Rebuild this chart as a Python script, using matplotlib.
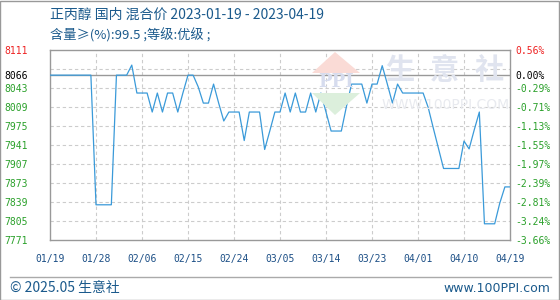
import numpy as np
import pandas as pd
import matplotlib
matplotlib.use("Agg")
import matplotlib.pyplot as plt
from matplotlib.patches import Rectangle, Polygon
from matplotlib.lines import Line2D

# ---------------- data ----------------
start_date = "2023-01-19"
end_date = "2023-04-19"
prices = [
    8066, 8066, 8066, 8066, 8066, 8066, 8066, 8066, 8066,   # 01/19-01/27
    7834, 7834, 7834, 7834,                                 # 01/28-01/31
    8066, 8066, 8066, 8084, 8034, 8034, 8034,               # 02/01-02/07
    8000, 8034, 8000, 8034, 8034, 8000, 8034,               # 02/08-02/14
    8066, 8066, 8045, 8016, 8016, 8050, 8016, 7984,         # 02/15-02/22
    8000, 8000, 8000, 7949, 8000, 8000, 8000,               # 02/23-03/01
    7933, 7966, 8000, 8000, 8034, 8000, 8034, 8000, 8000,   # 03/02-03/10
    8034, 8000, 8034, 8000, 7966, 7966, 7966, 8010,         # 03/11-03/18
    8050, 8050, 8050, 8016, 8050, 8050, 8083, 8050, 8016,   # 03/19-03/27
    8050, 8034, 8034, 8034, 8034, 8034, 8008, 7971, 7935,   # 03/28-04/05
    7899, 7899, 7899, 7899, 7948, 7934, 7968, 8000,         # 04/06-04/13
    7800, 7800, 7800, 7837, 7866, 7866,                     # 04/14-04/19
]
base_price = 8066
y_max, y_min = 8111, 7771
left_ticks = [8111, 8066, 8043, 8009, 7975, 7941, 7907, 7873, 7839, 7805, 7771]
left_labels = ["8111", "8066", "8043", "8009", "7975", "7941", "7907", "7873", "7839", "7805", "7771"]
right_labels = ["0.56%", "0.00%", "-0.29%", "-0.71%", "-1.13%", "-1.55%", "-1.97%",
                "-2.39%", "-2.81%", "-3.24%", "-3.66%"]
grid_levels = [8077, 8043, 8009, 7975, 7941, 7907, 7873, 7839, 7805]
x_tick_labels = ["01/19", "01/28", "02/06", "02/15", "02/24", "03/05",
                 "03/14", "03/23", "04/01", "04/10", "04/19"]
title_line1 = "正丙醇 国内 混合价 2023-01-19 - 2023-04-19"
title_line2 = "含量≥(%):99.5 ;等级:优级 ;"
footer_left = "© 2025.05 生意社"
footer_right = "www.100PPI.com"
watermark_chars = "生意社"
watermark_url = "WWW.100PPI.COM"

dates = pd.date_range(start_date, end_date, freq="D")
tick_dates = pd.date_range(start_date, end_date, freq="9D")

# ---------------- figure ----------------
W, H = 560, 300
fig = plt.figure(figsize=(W / 100, H / 100), dpi=100)
fig.patch.set_facecolor("white")

def fx(px):
    return px / W

def fy(py):
    return 1 - py / H

ax = fig.add_axes([fx(50), fy(240), (510 - 50) / W, (240 - 50) / H])
ax.set_facecolor("none")

# watermark (figure pixels)
roof = Polygon([[fx(312), fy(73)], [fx(335), fy(52)], [fx(360), fy(73)]],
               closed=True, transform=fig.transFigure, facecolor="#fadbd6",
               edgecolor="none", zorder=0)
fig.patches.append(roof)
green = Polygon([[fx(312), fy(93)], [fx(360), fy(93)], [fx(335), fy(115)]],
                closed=True, transform=fig.transFigure, facecolor="#dcefdc",
                edgecolor="none", zorder=0)
fig.patches.append(green)
fig.text(fx(336), fy(82), "PPI", ha="center", va="center", fontsize=13,
         fontweight="bold", color="#d6dcee", family="DejaVu Serif", zorder=0)
for i, ch in enumerate(watermark_chars):
    fig.text(fx(400 + i * 44.5), fy(70), ch, ha="center", va="center",
             fontsize=21, fontweight="bold", color="#e0e4ef",
             family=["Noto Sans CJK SC", "DejaVu Sans"], zorder=0)
fig.text(fx(446), fy(105), watermark_url, ha="center", va="center",
         fontsize=10, color="#e8eaef", family="DejaVu Sans", zorder=0)

# grid
for lv in grid_levels:
    ax.axhline(lv, color="#cccccc", lw=0.8, ls=(0, (3, 2.5)), zorder=1)
for td in tick_dates[1:-1]:
    ax.axvline(td, color="#cccccc", lw=0.8, ls=(0, (3, 2.5)), zorder=1)
ax.axhline(base_price, color="#999999", lw=1.0, zorder=2)

ax.plot(dates, prices, color="#3a9ad9", lw=0.9, zorder=3)

ax.set_xlim(dates[0], dates[-1])
ax.set_ylim(y_min, y_max)
for sp in ax.spines.values():
    sp.set_color("#999999")
    sp.set_linewidth(1.0)

mono = "DejaVu Sans Mono"
ax.set_xticks(tick_dates)
ax.set_xticklabels(x_tick_labels, fontsize=7, family=mono, color="#1c4f86")
ax.tick_params(axis="x", length=0, pad=10)

ax.set_yticks(left_ticks)
ax.set_yticklabels(left_labels, fontsize=7, family=mono)
ax.tick_params(axis="y", length=0, pad=16)
for i, t in enumerate(ax.get_yticklabels()):
    t.set_color("#ee2222" if i == 0 else ("#000000" if i == 1 else "#2aa02a"))

ax2 = ax.twinx()
ax2.set_ylim(y_min, y_max)
ax2.set_yticks(left_ticks)
ax2.set_yticklabels(right_labels, fontsize=7, family=mono)
ax2.tick_params(axis="y", length=0, pad=4)
for sp in ax2.spines.values():
    sp.set_visible(False)
for i, t in enumerate(ax2.get_yticklabels()):
    t.set_color("#ee2222" if i == 0 else ("#000000" if i == 1 else "#2aa02a"))

cjk = ["Noto Sans CJK SC", "DejaVu Sans"]
title_color = "#1b5a8c"
fig.text(fx(50), fy(15), title_line1, ha="left", va="center", fontsize=10,
         family=cjk, color=title_color)
fig.text(fx(50), fy(35), title_line2, ha="left", va="center", fontsize=9.5,
         family=cjk, color=title_color)

# footer
fig.add_artist(Line2D([fx(10), fx(551)], [fy(276.5), fy(276.5)],
                      transform=fig.transFigure, color="#aaaaaa", lw=1.0))
fig.text(fx(10), fy(288), footer_left, ha="left", va="center", fontsize=10,
         family=cjk, color="#1b5a8c")
fig.text(fx(550), fy(288), footer_right, ha="right", va="center", fontsize=9,
         family="DejaVu Sans", color="#1b5a8c")

# outer border
fig.patches.append(Rectangle((0.0005, 0.001), 0.998, 0.997, transform=fig.transFigure,
                             fill=False, edgecolor="#999999", lw=1.0, zorder=10))

fig.savefig("out.png", dpi=100)
